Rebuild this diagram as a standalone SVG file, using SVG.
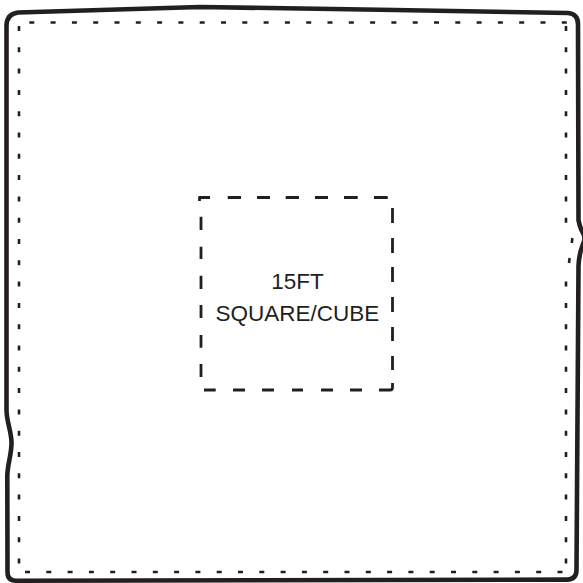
<svg xmlns="http://www.w3.org/2000/svg" width="583" height="583" viewBox="0 0 583 583">
  <style>
    .border { fill: none; stroke: #231f20; stroke-width: 4.6; stroke-linejoin: round; }
    .dots { fill: none; stroke: #231f20; stroke-width: 2.6; stroke-dasharray: 5 16.3; }
    .dot { fill: none; stroke: #231f20; stroke-width: 2.6; }
    .dash { fill: none; stroke: #231f20; stroke-width: 2.8; stroke-linejoin: round; }
    .label { font-family: "Liberation Sans", Arial, sans-serif; font-size: 22.5px; fill: #231f20; text-anchor: middle; }
  </style>
  <rect width="583" height="583" fill="#ffffff"/>
  <g id="outer-area">
    <path class="border" d="M 6.5,26 Q 6.5,14 18,12.5 L 200,7 L 380,9.7 L 568,13 Q 578,14 578,24 L 578.5,220 Q 580,228 583,233 Q 586,238 583,244 Q 579,254 578.5,266 L 576.5,570 Q 576.5,579.5 567,579.6 L 16,580.7 Q 7.5,580.7 7.5,572 L 7.3,476 C 7.3,465 11.5,455 11.5,443 C 11.5,431 6.5,422 6.5,410 Z"/>
    <path class="dots" d="M 29.3,22.5 H 567"/>
    <path class="dots" d="M 19,26 V 564"/>
    <path class="dots" d="M 25,572 H 564"/>
    <path class="dots" d="M 566,26 V 223"/>
    <path class="dots" d="M 566,281.6 V 565"/>
    <path class="dot" d="M 572.4,238 L 571.8,243 M 569.6,258 L 569,263"/>
  </g>
  <g id="square-15ft">
    <path class="dash" d="M 199.5,201 L 199.5,197.5 L 210,197.5 M 227.7,197.5 H 241 M 257,197.5 H 270 M 285.7,197.5 H 299 M 315,197.5 H 328 M 344,197.5 H 357.7 M 374,197.5 H 387.7"/>
    <path class="dash" d="M 392.5,208 V 223 M 392.5,238 V 253 M 392.5,267 V 282 M 392.5,297 V 312 M 392.5,327 V 341 M 392.5,356 V 370"/>
    <path class="dash" d="M 204,390 H 215.7 M 233,390 H 245 M 262,390 H 274 M 292,390 H 303 M 321,390 H 333 M 350,390 H 362 M 379,390 H 390 Q 392.5,390 392.5,387.5 L 392.5,383"/>
    <path class="dash" d="M 201,216.7 V 230 M 201,246.7 V 259 M 201,275.7 V 289 M 201,305 V 318 M 201,335 V 347.7 M 201,364 V 377"/>
    <text class="label" x="297.5" y="289">15FT</text>
    <text class="label" x="297.5" y="321">SQUARE/CUBE</text>
  </g>
</svg>
